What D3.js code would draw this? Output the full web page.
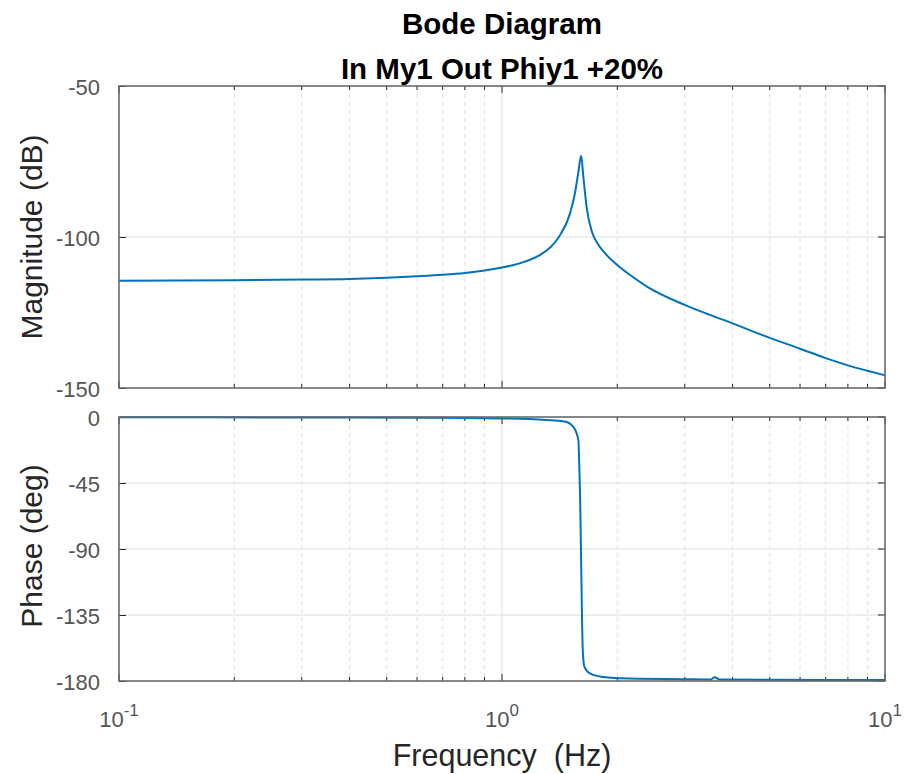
<!DOCTYPE html>
<html>
<head>
<meta charset="utf-8">
<script src="https://cdn.jsdelivr.net/npm/d3@7"></script>
<style>
  body { margin: 0; background: #fff; }
  text { font-family: "Liberation Sans", Arial, sans-serif; }
  .tick text { fill: #555; font-size: 22px; }
  .grid line { stroke: #dedede; stroke-width: 1; }
  .minor line { stroke: #dedede; stroke-dasharray: 4 4; }
</style>
</head>
<body>
<div id="chart"></div>
<script>
// values
var magFreq = [0.1, 0.2, 0.3, 0.4, 0.5, 0.6, 0.7, 0.8, 0.9, 1.0, 1.1, 1.258, 1.336, 1.41, 1.507, 1.553, 1.583, 1.609,
               1.632, 1.665, 1.716, 1.78, 1.84, 1.975, 2.16, 2.39, 3.0, 4.0, 5.0, 6.0, 7.0, 8.0, 9.0, 10.0];
var magDb = [-114.5, -114.3, -114.1, -113.9, -113.5, -113.0, -112.5, -111.9, -111.1, -110.1, -108.9, -105.9, -103.5, -99.8, -92.0, -85.0, -78.4, -73.1,
             -80.5, -90.5, -98.2, -102.3, -104.8, -108.7, -112.6, -116.4, -122.5, -128.6, -133.4, -137.0, -140.1, -142.5, -144.3, -145.8];

var phFreq = [0.1, 0.3, 0.6, 1.0, 1.3, 1.45, 1.477, 1.537, 1.583, 1.59, 1.6, 1.61, 1.625, 1.64, 1.70, 1.84, 2.03, 3.0, 3.5, 3.59, 3.7, 5.0, 10.0];
var phDeg = [-0.2, -0.3, -0.5, -1.0, -2.0, -3.0, -3.4, -6.8, -15.8, -30, -56.7, -102, -158.7, -170, -175, -177.3, -178.2, -178.8, -179, -177.5, -179, -179.2, -179.3];

var magTicks = [-50, -100, -150];
var phTicks = [0, -45, -90, -135, -180];
var freqTicks = [0.1, 1, 10];
var freqExp = ["-1", "0", "1"];

var titleLines = ["Bode Diagram", "In My1 Out Phiy1 +20%"];

var W = 911, H = 774;
var left = 119, right = 885;
var magTop = 86, magBottom = 388;
var phTop = 417, phBottom = 681;

var svg = d3.select("#chart").append("svg")
  .attr("width", W)
  .attr("height", H);

var x = d3.scaleLog().domain([0.1, 10]).range([left, right]);
var yMag = d3.scaleLinear().domain([-150, -50]).range([magBottom, magTop]);
var yPh = d3.scaleLinear().domain([-180, 0]).range([phBottom, phTop]);

// minor frequency positions 2..9 per decade
var minorFreq = [];
[0.1, 1].forEach(function(dec) {
  for (var k = 2; k <= 9; k++) minorFreq.push(dec * k);
});

function panel(y, top, bottom, ticks, freqs, vals) {
  var g = svg.append("g");

  // vertical minor grid (dashed)
  g.append("g").attr("class", "minor")
    .selectAll("line").data(minorFreq).enter().append("line")
    .attr("x1", function(d) { return x(d); })
    .attr("x2", function(d) { return x(d); })
    .attr("y1", top).attr("y2", bottom);

  // vertical major grid
  g.append("g").attr("class", "grid")
    .selectAll("line").data(freqTicks).enter().append("line")
    .attr("x1", function(d) { return x(d); })
    .attr("x2", function(d) { return x(d); })
    .attr("y1", top).attr("y2", bottom);

  // horizontal grid
  g.append("g").attr("class", "grid")
    .selectAll("line").data(ticks).enter().append("line")
    .attr("x1", left).attr("x2", right)
    .attr("y1", function(d) { return y(d); })
    .attr("y2", function(d) { return y(d); });

  // y axis, ticks inside
  var ya = g.append("g")
    .attr("transform", "translate(" + left + ",0)")
    .call(d3.axisLeft(y).tickValues(ticks)
      .tickFormat(function(d) { return String(d); })
      .tickSizeInner(-7).tickSizeOuter(0).tickPadding(19));
  ya.select(".domain").remove();
  ya.selectAll(".tick line").attr("stroke", "#262626");
  ya.selectAll(".tick text").attr("dy", "0.4em");

  // right side ticks
  g.append("g").selectAll("line").data(ticks).enter().append("line")
    .attr("x1", right).attr("x2", right - 7)
    .attr("y1", function(d) { return y(d); })
    .attr("y2", function(d) { return y(d); })
    .attr("stroke", "#262626");

  // x ticks, inward, top and bottom
  var allX = freqTicks.concat(minorFreq);
  g.append("g").selectAll("line").data(allX).enter().append("line")
    .attr("x1", function(d) { return x(d); })
    .attr("x2", function(d) { return x(d); })
    .attr("y1", bottom)
    .attr("y2", function(d) { return bottom - (freqTicks.indexOf(d) >= 0 ? 7 : 4); })
    .attr("stroke", "#262626");
  g.append("g").selectAll("line").data(allX).enter().append("line")
    .attr("x1", function(d) { return x(d); })
    .attr("x2", function(d) { return x(d); })
    .attr("y1", top)
    .attr("y2", function(d) { return top + (freqTicks.indexOf(d) >= 0 ? 7 : 4); })
    .attr("stroke", "#262626");

  // data line
  var line = d3.line()
    .x(function(d) { return x(d[0]); })
    .y(function(d) { return y(d[1]); })
    .curve(d3.curveMonotoneX);

  g.append("path")
    .datum(d3.zip(freqs, vals))
    .attr("fill", "none")
    .attr("stroke", "#0072BD")
    .attr("stroke-width", 2)
    .attr("d", line);

  // box
  g.append("rect")
    .attr("x", left).attr("y", top)
    .attr("width", right - left).attr("height", bottom - top)
    .attr("fill", "none")
    .attr("stroke", "#666")
    .attr("stroke-width", 1.5);
}

panel(yMag, magTop, magBottom, magTicks, magFreq, magDb);
panel(yPh, phTop, phBottom, phTicks, phFreq, phDeg);

// x tick labels as 10^n
var xl = svg.append("g").selectAll("text").data(freqTicks).enter().append("text")
  .attr("x", function(d) { return x(d); })
  .attr("y", 727)
  .attr("text-anchor", "middle")
  .attr("fill", "#555")
  .style("font-size", "22px");
xl.append("tspan").text("10");
xl.append("tspan")
  .attr("dy", -11)
  .style("font-size", "17px")
  .text(function(d, i) { return freqExp[i]; });

// titles
svg.append("g").selectAll("text").data(titleLines).enter().append("text")
  .attr("x", (left + right) / 2)
  .attr("y", function(d, i) { return 34 + i * 45; })
  .attr("text-anchor", "middle")
  .attr("font-weight", "bold")
  .attr("fill", "#000")
  .style("font-size", "29.5px")
  .text(function(d) { return d; });

// axis labels
svg.append("text")
  .attr("x", (left + right) / 2)
  .attr("y", 766)
  .attr("text-anchor", "middle")
  .attr("fill", "#262626")
  .style("font-size", "30.5px")
  .style("white-space", "pre")
  .text("Frequency  (Hz)");

svg.append("text")
  .attr("transform", "translate(42," + ((magTop + magBottom) / 2) + ") rotate(-90)")
  .attr("text-anchor", "middle")
  .attr("fill", "#262626")
  .style("font-size", "30px")
  .text("Magnitude (dB)");

svg.append("text")
  .attr("transform", "translate(42," + ((phTop + phBottom) / 2 - 3) + ") rotate(-90)")
  .attr("text-anchor", "middle")
  .attr("fill", "#262626")
  .style("font-size", "30px")
  .text("Phase (deg)");
</script>
</body>
</html>
